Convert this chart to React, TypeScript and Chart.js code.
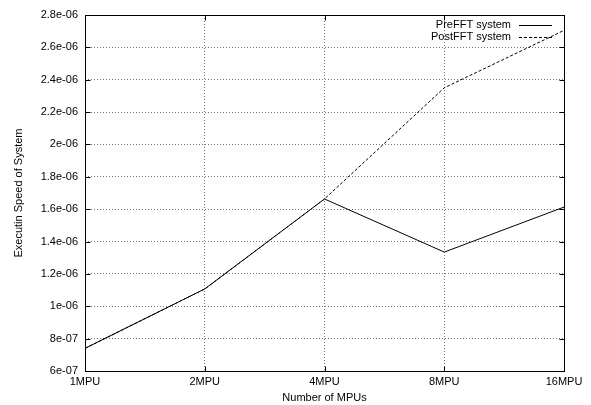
import React, { useEffect, useRef } from "react";
import { Chart, registerables } from "chart.js";

Chart.register(...registerables);

const categories = ["1MPU", "2MPU", "4MPU", "8MPU", "16MPU"];
const preFFT = [7.4e-7, 1.107e-6, 1.663e-6, 1.335e-6, 1.613e-6];
const postFFT = [7.4e-7, 1.107e-6, 1.663e-6, 2.35e-6, 2.705e-6];
const yTickValues = [6e-7, 8e-7, 1e-6, 1.2e-6, 1.4e-6, 1.6e-6, 1.8e-6, 2e-6, 2.2e-6, 2.4e-6, 2.6e-6, 2.8e-6];
const seriesNames = ["PreFFT system", "PostFFT system"];
const xTitle = "Number of MPUs";
const yTitle = "Executin Speed of System";

const FONT = "'Liberation Sans', Arial, sans-serif";

function fmt(v: number): string {
  const s = Number(v.toPrecision(8)).toExponential();
  const [m, e] = s.split("e");
  const neg = e.startsWith("-");
  const n = e.replace(/^[-+]/, "").padStart(2, "0");
  return `${m}e${neg ? "-" : "+"}${n}`;
}

const framePlugin = {
  id: "frame",
  afterDraw(chart: any) {
    const { ctx, chartArea: a } = chart;
    const xs = chart.scales.x;
    const ys = chart.scales.y;
    ctx.save();
    ctx.strokeStyle = "#000";
    ctx.lineWidth = 1;
    ctx.setLineDash([]);
    const L = Math.round(a.left) + 0.5;
    const R = Math.round(a.right) + 0.5;
    const T = Math.round(a.top) + 0.5;
    const B = Math.round(a.bottom) + 0.5;
    ctx.strokeRect(L, T, R - L, B - T);
    ctx.beginPath();
    yTickValues.forEach((v) => {
      const y = Math.round(ys.getPixelForValue(v)) + 0.5;
      ctx.moveTo(L, y); ctx.lineTo(L + 5, y);
      ctx.moveTo(R, y); ctx.lineTo(R - 5, y);
    });
    categories.forEach((_, i) => {
      const x = Math.round(xs.getPixelForValue(i)) + 0.5;
      ctx.moveTo(x, B); ctx.lineTo(x, B - 5);
      ctx.moveTo(x, T); ctx.lineTo(x, T + 5);
    });
    ctx.stroke();
    ctx.font = `11px ${FONT}`;
    ctx.fillStyle = "#000";
    ctx.textAlign = "right";
    ctx.textBaseline = "middle";
    const textRight = 511;
    const rows = [25, 37];
    seriesNames.forEach((name, i) => {
      const y = rows[i];
      ctx.fillText(name, textRight, y);
      ctx.beginPath();
      ctx.setLineDash(i === 0 ? [] : [3, 2]);
      ctx.moveTo(519, y + 0.5);
      ctx.lineTo(552, y + 0.5);
      ctx.stroke();
    });
    ctx.restore();
  },
};

export default function App() {
  const ref = useRef<HTMLCanvasElement | null>(null);
  useEffect(() => {
    document.body.style.margin = "0";
    const canvas = ref.current!;
    const chart = new Chart(canvas, {
      type: "line",
      data: {
        labels: categories,
        datasets: [
          {
            label: seriesNames[0],
            data: preFFT,
            borderColor: "#000",
            borderWidth: 1,
            pointRadius: 0,
            tension: 0,
            fill: false,
          },
          {
            label: seriesNames[1],
            data: postFFT,
            borderColor: "#000",
            borderWidth: 1,
            borderDash: [3, 2],
            pointRadius: 0,
            tension: 0,
            fill: false,
          },
        ],
      },
      options: {
        animation: false,
        responsive: false,
        devicePixelRatio: 1,
        layout: { padding: { top: 15, right: 27, left: 12, bottom: 0 } },
        plugins: { legend: { display: false }, tooltip: { enabled: false } },
        scales: {
          x: {
            type: "category",
            offset: false,
            border: { display: false, dash: [1, 2] },
            grid: { color: "#777", drawTicks: false },
            ticks: { color: "#000", font: { family: FONT, size: 11 }, padding: 4, maxRotation: 0, autoSkip: false },
            title: { display: true, text: xTitle, color: "#000", font: { family: FONT, size: 11 }, padding: { top: 4, bottom: 0 } },
            afterFit(scale: any) { scale.height = 34; },
          },
          y: {
            type: "linear",
            min: 6e-7,
            max: 2.8e-6,
            border: { display: false, dash: [1, 2] },
            grid: { color: "#777", drawTicks: false },
            afterBuildTicks(scale: any) { scale.ticks = yTickValues.map((v) => ({ value: v })); },
            ticks: {
              color: "#000",
              font: { family: FONT, size: 11 },
              padding: 7,
              callback: (v: any) => fmt(Number(v)),
            },
            title: { display: true, text: yTitle, color: "#000", font: { family: FONT, size: 11 }, padding: { top: 0, bottom: 4 } },
            afterFit(scale: any) { scale.width = 73; },
          },
        },
      },
      plugins: [framePlugin],
    });
    return () => chart.destroy();
  }, []);
  return (
    <div style={{ width: 591, height: 405, background: "#fff" }}>
      <canvas ref={ref} width={591} height={405} style={{ display: "block" }} />
    </div>
  );
}
